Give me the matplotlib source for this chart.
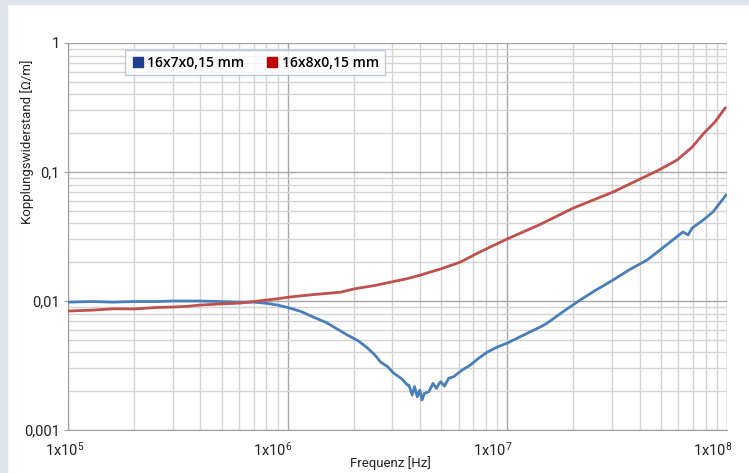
import numpy as np
import matplotlib.pyplot as plt
from matplotlib.lines import Line2D
from matplotlib.patches import Rectangle
from matplotlib.ticker import LogLocator, NullFormatter, FixedLocator
import matplotlib.transforms as mtransforms

plt.rcParams['font.family'] = ['Roboto', 'DejaVu Sans']
plt.rcParams['mathtext.fontset'] = 'custom'
plt.rcParams['mathtext.rm'] = 'Roboto'
plt.rcParams['mathtext.it'] = 'Roboto'

# 16x7x0,15 mm (blue)
f_blue = [1.0e5, 1.3e5, 1.6e5, 2.0e5, 2.5e5, 3.0e5, 3.5e5, 4.0e5, 5.0e5, 6.0e5,
          7.0e5, 8.0e5, 9.0e5, 1.0e6, 1.15e6, 1.31e6, 1.5e6, 1.87e6, 2.1e6, 2.31e6,
          2.5e6, 2.65e6, 2.85e6, 3.03e6, 3.3e6, 3.51e6, 3.56e6, 3.69e6, 3.78e6, 3.89e6,
          3.99e6, 4.09e6, 4.19e6, 4.39e6, 4.59e6, 4.75e6, 4.96e6, 5.17e6, 5.41e6, 5.7e6,
          6.2e6, 6.79e6, 7.4e6, 8.11e6, 9.0e6, 1.0e7, 1.2e7, 1.41e7, 1.52e7, 1.8e7,
          2.15e7, 2.5e7, 3.03e7, 3.6e7, 4.33e7, 5.2e7, 6.3e7, 6.65e7, 6.94e7, 7.8e7,
          8.63e7, 9.9e7]
v_blue = [0.0098, 0.0099, 0.0098, 0.0099, 0.0099, 0.0100, 0.0100, 0.0100, 0.0099, 0.0098,
          0.0098, 0.0096, 0.0093, 0.0089, 0.0083, 0.0075, 0.0068, 0.00545, 0.0049, 0.00432,
          0.0038, 0.00336, 0.0031, 0.00277, 0.0025, 0.00223, 0.00223, 0.00187, 0.00217, 0.00181,
          0.00204, 0.00171, 0.00192, 0.00198, 0.0023, 0.0021, 0.00237, 0.00219, 0.00252, 0.00259,
          0.0029, 0.00319, 0.0036, 0.00402, 0.0044, 0.00472, 0.0055, 0.00628, 0.00675, 0.0083,
          0.0102, 0.0120, 0.01455, 0.0175, 0.0208, 0.0265, 0.0343, 0.0325, 0.0368, 0.0425,
          0.049, 0.0663]

# 16x8x0,15 mm (red)
f_red = [1.0e5, 1.3e5, 1.6e5, 2.0e5, 2.5e5, 3.0e5, 3.5e5, 4.0e5, 5.0e5, 6.1e5,
         7.0e5, 8.1e5, 9.0e5, 1.0e6, 1.3e6, 1.74e6, 2.0e6, 2.5e6, 2.94e6, 3.5e6,
         4.03e6, 4.96e6, 6.1e6, 7.5e6, 1.0e7, 1.4e7, 2.0e7, 3.03e7, 3.94e7, 4.9e7,
         5.93e7, 6.94e7, 7.86e7, 8.81e7, 9.8e7]
v_red = [0.00836, 0.0085, 0.0087, 0.00867, 0.0089, 0.00898, 0.0091, 0.0093, 0.0095, 0.00964,
         0.0099, 0.0102, 0.0104, 0.0107, 0.0112, 0.0117, 0.0124, 0.0132, 0.0140, 0.0149,
         0.0159, 0.0177, 0.0200, 0.0240, 0.0303, 0.0390, 0.0526, 0.070, 0.0867, 0.1037,
         0.124, 0.156, 0.2005, 0.244, 0.313]

series_names = ['16x7x0,15 mm', '16x8x0,15 mm']
line_colors = ['#4a7ebb', '#c0504d']
legend_colors = ['#1f3f8f', '#c00000']

x_ticks = [1e5, 1e6, 1e7, 1e8]
x_labels = [r'1x10$^{5}$', r'1x10$^{6}$', r'1x10$^{7}$', r'1x10$^{8}$']
y_ticks = [0.001, 0.01, 0.1, 1]
y_labels = ['0,001', '0,01', '0,1', '1']

fig = plt.figure(figsize=(7.49, 4.73), dpi=100)
fig.patches.append(Rectangle((0, 0), 7 / 749, 1, transform=fig.transFigure,
                             color='#dfe4ec', zorder=-1))
fig.patches.append(Rectangle((0, 1 - 4 / 473), 1, 4 / 473, transform=fig.transFigure,
                             color='#dfe4ec', zorder=-1))

ax = fig.add_axes([68 / 749, 43 / 473, 659 / 749, 387 / 473])
ax.set_xscale('log')
ax.set_yscale('log')
ax.set_xlim(1e5, 1e8)
ax.set_ylim(0.001, 1)

ax.plot(f_blue, v_blue, color=line_colors[0], lw=2.0, zorder=3)
ax.plot(f_red, v_red, color=line_colors[1], lw=2.0, zorder=3)

ax.xaxis.set_major_locator(FixedLocator(x_ticks))
ax.xaxis.set_minor_locator(LogLocator(base=10, subs=np.arange(2, 10)))
ax.xaxis.set_minor_formatter(NullFormatter())
ax.yaxis.set_major_locator(FixedLocator(y_ticks))
ax.yaxis.set_minor_locator(LogLocator(base=10, subs=np.arange(2, 10)))
ax.yaxis.set_minor_formatter(NullFormatter())
ax.set_xticklabels(x_labels)
ax.set_yticklabels(y_labels)

ax.grid(which='major', color='#a6a6a6', lw=1.0)
ax.grid(which='minor', color='#d4d4d4', lw=1.0)
ax.set_axisbelow(True)

for s in ['top', 'right']:
    ax.spines[s].set_visible(False)
ax.spines['left'].set_color('#a0a0a0')
ax.spines['bottom'].set_color('#a0a0a0')

ax.tick_params(axis='x', which='both', length=0, pad=8, labelsize=10.5, colors='#222222')
ax.tick_params(axis='y', which='major', length=3, color='#a0a0a0', pad=3,
               labelsize=10.5, labelcolor='#222222')
ax.tick_params(axis='y', which='minor', length=0)
shift = mtransforms.ScaledTranslation(5 / 100, 0, fig.dpi_scale_trans)
for i, lbl in enumerate(ax.get_xticklabels()):
    if i == 0:
        lbl.set_horizontalalignment('center')
        lbl.set_transform(lbl.get_transform() + mtransforms.ScaledTranslation(-3 / 100, 0, fig.dpi_scale_trans))
    else:
        lbl.set_horizontalalignment('right')
        lbl.set_transform(lbl.get_transform() + shift)

ax.set_xlabel('Frequenz [Hz]', fontsize=9.5, color='#222222')
ax.xaxis.set_label_coords(0.489, -0.066)
ax.set_ylabel('Kopplungswiderstand [\u03a9/m]', fontsize=9.5, color='#222222')
ax.yaxis.set_label_coords(-0.052, 0.744)

handles = [Line2D([], [], marker='s', ls='none', color=c, markersize=6.5) for c in legend_colors]
leg = ax.legend(handles, series_names, loc='upper left', bbox_to_anchor=(0.0865, 0.982),
                ncol=2, frameon=True, fancybox=False, edgecolor='#a8bcd6',
                borderaxespad=0, handletextpad=0.2, columnspacing=1.5,
                borderpad=0.4, handlelength=1.0,
                prop={'family': ['Open Sans', 'DejaVu Sans'], 'size': 10, 'weight': 'semibold'})
leg.get_frame().set_linewidth(1.0)

fig.savefig('out.png', dpi=100)
